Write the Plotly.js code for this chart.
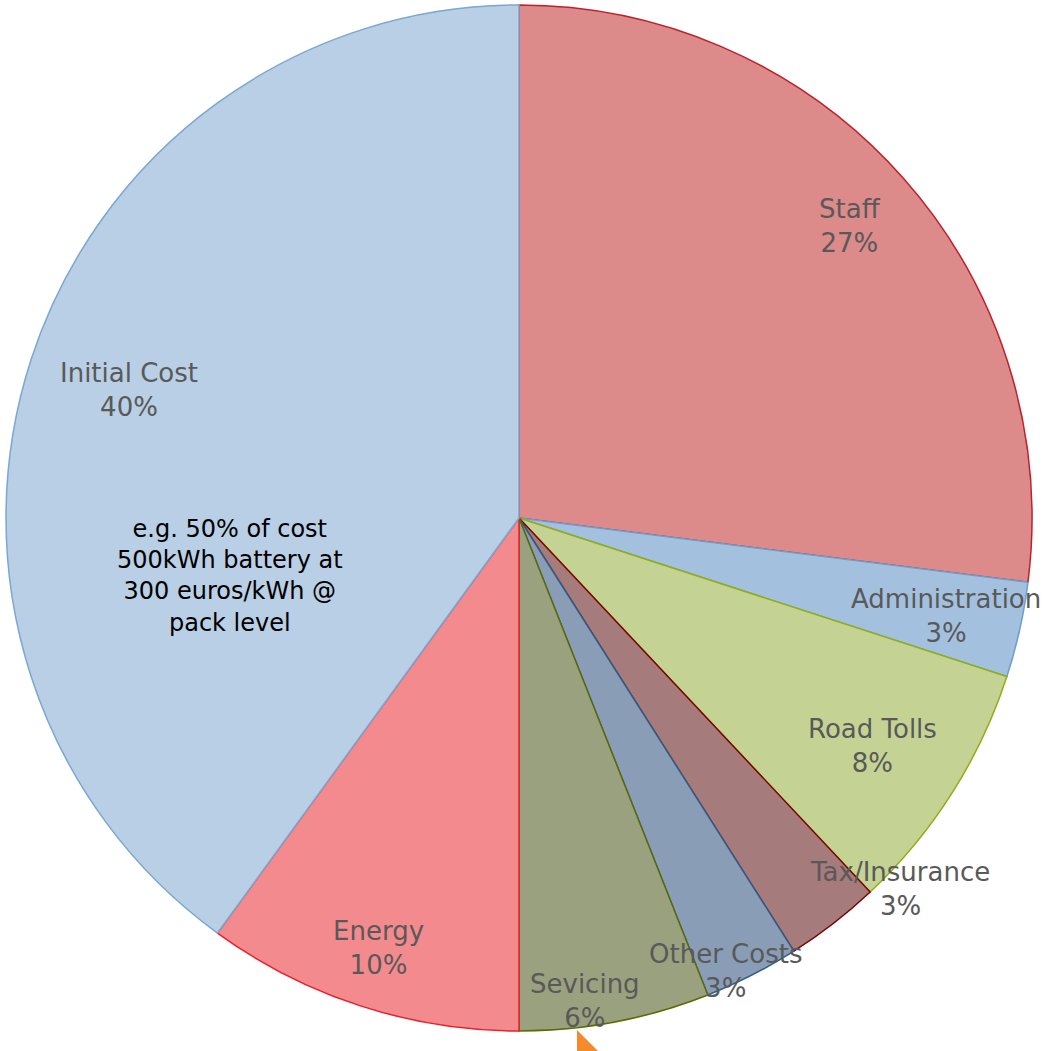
<!DOCTYPE html>
<html>
<head>
<meta charset="utf-8">
<script src="https://cdn.plot.ly/plotly-3.0.1.min.js"></script>
<style>html,body{margin:0;padding:0;background:#fff;}#chart{width:1051px;height:1051px;}</style>
</head>
<body>
<div id="chart"></div>
<script>
var categories = ["Staff", "Administration", "Road Tolls", "Tax/Insurance", "Other Costs", "Sevicing", "Energy", "Initial Cost"];
var values = [27, 3, 8, 3, 3, 6, 10, 40];
var fillColors = ["#dc8a8a", "#a3c1df", "#c4d394", "#a67b7c", "#8a9db6", "#9aa17e", "#f38a8d", "#b8cfe5"];
var lineColors = ["#c0202a", "#6a9fd0", "#92ad10", "#7d0000", "#2e5f8a", "#5b6b00", "#e8202e", "#7ba7d0"];
var noteText = "e.g. 50% of cost<br>500kWh battery at<br>300 euros/kWh @<br>pack level";

// label positions in pixels (layout only)
var labelPx = [[850, 226], [946, 616], [872, 746], [900, 889], [725, 971], [585, 1001], [378, 948], [129, 390]];
var notePx = [230, 576];

var W = 1051, H = 1051, mL = 6, mR = 19, mT = 5, mB = 20;
var pw = W - mL - mR, ph = H - mT - mB;
function px2x(px) { return (px - mL) / pw; }
function py2y(py) { return 1 - (py - mT) / ph; }

var trace = {
  type: "pie",
  labels: categories,
  values: values,
  sort: false,
  direction: "clockwise",
  rotation: 0,
  textinfo: "none",
  hoverinfo: "skip",
  marker: { colors: fillColors, line: { color: lineColors, width: 1.5 } },
  showlegend: false
};

var total = values.reduce(function (a, b) { return a + b; }, 0);
var annotations = categories.map(function (c, i) {
  return {
    xref: "paper", yref: "paper",
    x: px2x(labelPx[i][0]), y: py2y(labelPx[i][1]),
    xanchor: "center", yanchor: "middle",
    text: c + "<br>" + Math.round(values[i] / total * 100) + "%",
    showarrow: false,
    font: { family: "DejaVu Sans, sans-serif", size: 26, color: "#595959" }
  };
});
annotations.push({
  xref: "paper", yref: "paper",
  x: px2x(notePx[0]), y: py2y(notePx[1]),
  xanchor: "center", yanchor: "middle",
  text: noteText, showarrow: false,
  font: { family: "DejaVu Sans, sans-serif", size: 24, color: "#000000" }
});

var layout = {
  width: W, height: H,
  margin: { l: mL, r: mR, t: mT, b: mB, pad: 0 },
  paper_bgcolor: "#ffffff",
  plot_bgcolor: "#ffffff",
  showlegend: false,
  annotations: annotations,
  shapes: [{
    type: "path", xref: "paper", yref: "paper",
    path: "M " + px2x(577) + " " + py2y(1030) + " L " + px2x(599) + " " + py2y(1052) + " L " + px2x(577) + " " + py2y(1052) + " Z",
    fillcolor: "#f58a2c", line: { width: 0 }
  }]
};

Plotly.newPlot("chart", [trace], layout, { displayModeBar: false, staticPlot: true });
</script>
</body>
</html>
